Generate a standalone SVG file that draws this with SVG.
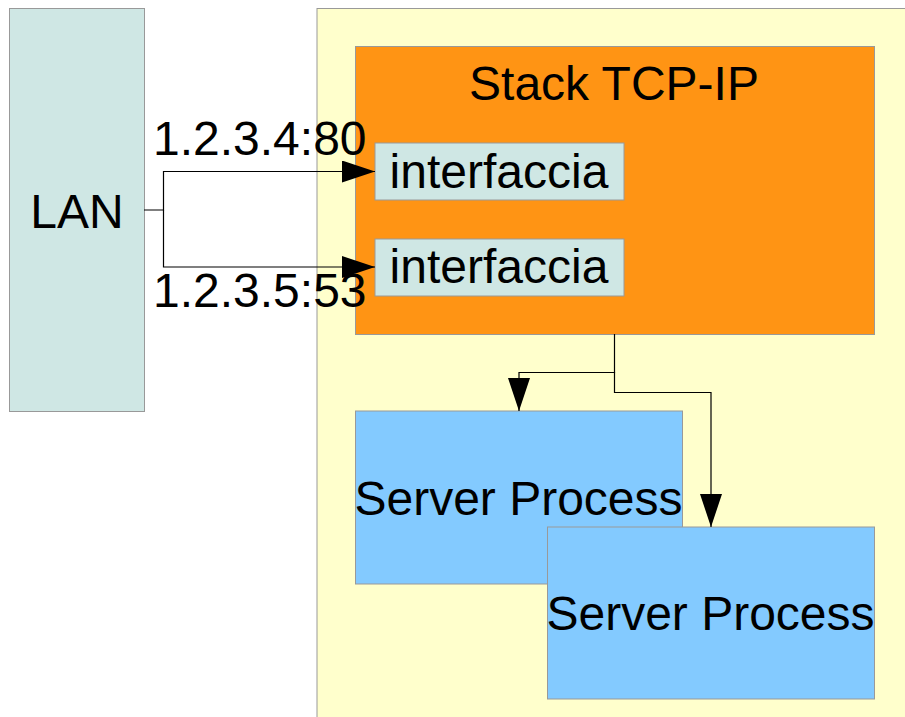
<svg xmlns="http://www.w3.org/2000/svg" width="905" height="717" viewBox="0 0 905 717">
<defs>
<style>
text{font-family:"Liberation Sans",Arial,sans-serif;font-size:48px;fill:#000}
.c{text-anchor:middle}
.box{stroke:#999;stroke-width:1}
.lan{fill:#cfe7e4}
.yel{fill:#ffffcc}
.org{fill:#ff9414}
.blu{fill:#83caff}
.conn{fill:none;stroke:#000;stroke-width:1.2}
</style>
<marker id="ah" markerWidth="33" markerHeight="22" refX="33" refY="11" orient="auto" markerUnits="userSpaceOnUse">
<path d="M0,0 L33,11 L0,22 Z" fill="#000"/>
</marker>
</defs>
<rect width="905" height="717" fill="#fff"/>
<g id="lan">
<rect class="box lan" x="9.5" y="8.5" width="135" height="403"/>
<text class="c" x="77" y="228">LAN</text>
</g>
<g id="host">
<rect class="box yel" x="317" y="8.5" width="600" height="720"/>
</g>
<g id="stack">
<rect class="box org" x="355.5" y="46.5" width="519" height="288"/>
<text class="c" x="614" y="100">Stack TCP-IP</text>
</g>
<g id="if1">
<rect class="box lan" x="375" y="143" width="249" height="57"/>
<text class="c" x="499" y="188">interfaccia</text>
</g>
<g id="if2">
<rect class="box lan" x="375" y="239" width="249" height="57"/>
<text class="c" x="499" y="283">interfaccia</text>
</g>
<g id="server1">
<rect class="box blu" x="355.5" y="411" width="327" height="173"/>
<text class="c" x="518.5" y="515">Server Process</text>
</g>
<g id="server2">
<rect class="box blu" x="547.5" y="527" width="327" height="172"/>
<text class="c" x="710.5" y="630">Server Process</text>
</g>
<g id="connectors">
<path class="conn" d="M144,210 H163.5 V171.5 H375" marker-end="url(#ah)"/>
<path class="conn" d="M163.5,210 V267 H375" marker-end="url(#ah)"/>
<path class="conn" d="M614.5,334 V372.5 H519 V411" marker-end="url(#ah)"/>
<path class="conn" d="M614.5,372 V392.5 H711 V527" marker-end="url(#ah)"/>
</g>
<g id="labels">
<text x="153" y="155">1.2.3.4:80</text>
<text x="153" y="307">1.2.3.5:53</text>
</g>
</svg>
